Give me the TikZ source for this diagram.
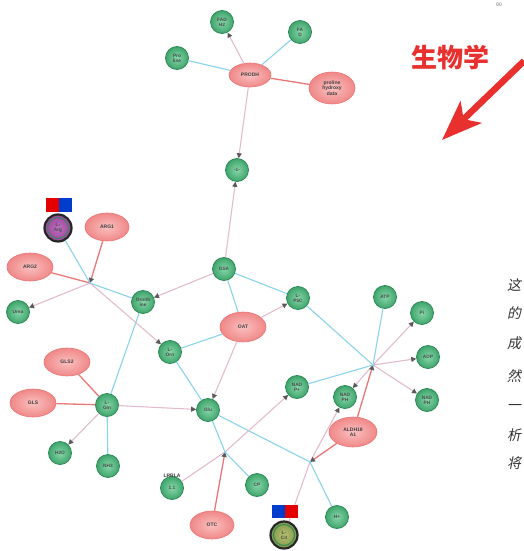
\documentclass[tikz,border=0pt]{standalone}
\usepackage{fontspec}
\setmainfont{Liberation Sans}
\newfontfamily\cjk{Noto Sans CJK SC}
\newfontfamily\cjkit[FakeSlant=0.2]{Noto Sans CJK SC}
\usetikzlibrary{arrows.meta,shapes.geometric}
\definecolor{cyanedge}{HTML}{8AD3EA}
\definecolor{pinkedge}{HTML}{E2BCCE}
\definecolor{rededge}{HTML}{E97777}
\definecolor{metin}{HTML}{86D6A8}
\definecolor{metout}{HTML}{3FA46C}
\definecolor{metdraw}{HTML}{2F8A58}
\definecolor{enzin}{HTML}{FAC0C0}
\definecolor{enzout}{HTML}{F08888}
\definecolor{enzdraw}{HTML}{E97676}
\definecolor{bigred}{HTML}{E8302E}
\definecolor{citin}{HTML}{B8C272}
\definecolor{citout}{HTML}{7F9445}
\tikzset{
  met/.style={circle, minimum size=23pt, inner sep=0pt, draw=metdraw, line width=0.8pt,
    shade, inner color=metin, outer color=metout,
    font=\bfseries\fontsize{4.8}{5}\selectfont, text=black!70, align=center},
  enz/.style={ellipse, minimum width=44pt, minimum height=28pt, inner sep=0pt, draw=enzdraw,
    line width=0.6pt, shade, inner color=enzin, outer color=enzout,
    font=\bfseries\fontsize{5}{5.5}\selectfont, text=black!75, align=center},
  ringnode/.style={circle, minimum size=27pt, inner sep=0pt, draw=black!85, line width=2.2pt,
    font=\bfseries\fontsize{4.8}{5}\selectfont, text=black!70, align=center,
    path picture={\draw[metdraw, line width=1pt] (path picture bounding box.center) circle (10.5pt);}},
  cy/.style={draw=cyanedge, line width=1.1pt},
  pk/.style={draw=pinkedge, line width=1.1pt},
  rd/.style={draw=rededge, line width=1.3pt},
  tip/.style={-{Triangle[length=5pt,width=5pt,color=black!65]}},
  hubdot/.style={circle, fill=cyanedge, inner sep=0pt, minimum size=3pt},
  cjkchar/.style={font=\cjkit\fontsize{14}{14}\selectfont, text=black!80, inner sep=0pt},
}
\begin{document}
\begin{tikzpicture}[x=1pt,y=-1pt]
\useasboundingbox (0,0) rectangle (524,551);

% top cluster
\node[met] (g1) at (222,22) {FAD\\H2};
\node[met] (g2) at (300,32) {FA\\D};
\node[met] (g3) at (177,58) {Pro\\line};
\node[enz, minimum width=42pt, minimum height=24pt] (prodh) at (250,75) {PRODH};
\node[enz, minimum width=46pt, minimum height=32pt] (pinkr) at (332,88) {proline\\hydroxy\\data};
\node[met] (g4) at (237,170) {-1-};

% left cluster
\node[ringnode, shade, inner color=violet!55, outer color=violet!75] (purple) at (58,228) {L-\\Arg};
\node[enz] (arg1) at (107,227) {ARG1};
\node[enz, minimum width=46pt] (arg2) at (30,267) {ARG2};
\coordinate (hubL) at (90,283);
\node[met] (urea) at (18,312) {Urea};
\node[met] (n143) at (143,302) {Ornith\\ine};
\node[met] (n224) at (224,269) {GSA};
\node[met] (n298) at (298,298) {L-\\P5C};
\node[enz, minimum width=46pt, minimum height=30pt] (oat) at (243,327) {OAT};
\node[met] (n170) at (170,352) {L-\\Orn};
\node[enz, minimum width=46pt] (gls2) at (67,362) {GLS2};
\node[enz, minimum width=46pt] (gls) at (33,403) {GLS};
\node[met] (n107) at (107,405) {L-\\Gln};
\node[met] (n60) at (60,453) {H2O};
\node[met] (n108) at (108,466) {NH3};
\node[met] (glu) at (208,410) {Glu};

% right cluster
\node[met] (n297) at (297,387) {NAD\\P+};
\node[met] (n345) at (345,397) {NAD\\PH};
\node[enz, minimum width=48pt, minimum height=30pt] (aldh) at (353,432) {ALDH18\\A1};
\coordinate (hubR) at (373,365);
\node[met] (n385) at (385,297) {ATP};
\node[met] (n422) at (422,313) {Pi};
\node[met] (n428) at (428,357) {ADP};
\node[met] (n427) at (427,400) {NAD\\PH};

% bottom cluster
\coordinate (hubB) at (225,452);
\coordinate (hubC) at (310,462);
\node[met] (n172) at (172,488) {1.1};
\node[font=\bfseries\fontsize{5}{5}\selectfont, text=black!80, inner sep=0pt] (lrrla) at (172,476) {LRRLA};
\node[enz] (otc) at (212,525) {OTC};
\node[met] (n257) at (257,485) {CP};
\node[ringnode, shade, inner color=citin, outer color=citout] (cit) at (284,535) {L-\\Cit};
\node[met] (n337) at (337,517) {H+};

% edges: cyan
\draw[cy] (prodh) -- (g3);
\draw[cy] (prodh) -- (g2);
\draw[cy] (n224) -- (n298);
\draw[cy] (n224) -- (oat);
\draw[cy] (oat) -- (n170);
\draw[cy] (n298) -- (hubR);
\draw[cy] (hubR) -- (n385);
\draw[cy] (hubR) -- (n297);
\draw[cy] (glu) -- (hubB);
\draw[cy] (hubB) -- (n257);
\draw[cy] (glu) -- (hubC);
\draw[cy] (hubC) -- (n337);
\draw[cy] (hubL) -- (n143);
\draw[cy] (hubL) -- (purple);
\draw[cy] (n143) -- (n107);
\draw[cy] (n107) -- (n108);
\draw[cy] (n170) -- (glu);

% edges: pink
\draw[pk,tip] (prodh) -- (g1);
\draw[pk,tip] (prodh) -- (g4);
\draw[pk,tip] (n224) -- (g4);
\draw[pk,tip] (n224) -- (n143);
\draw[pk,tip] (oat) -- (n298);
\draw[pk,tip] (oat) -- (glu);
\draw[pk,tip] (hubR) -- (n422);
\draw[pk,tip] (hubR) -- (n428);
\draw[pk,tip] (hubR) -- (n427);
\draw[pk,tip] (hubR) -- (n345);
\draw[pk,tip] (n107) -- (glu);
\draw[pk,tip] (n107) -- (n60);
\draw[pk,tip] (hubL) -- (urea);
\draw[pk,tip] (hubL) -- (n170);
\draw[pk] (n172) -- (hubB);
\draw[pk,tip] (hubB) -- (n297);
\draw[pk,tip] (hubC) -- (n345);
\draw[pk] (hubC) -- (cit);

% edges: red
\draw[rd] (prodh) -- (pinkr);
\draw[rd,tip] (arg1) -- (hubL);
\draw[rd] (arg2) -- (hubL);
\draw[rd] (gls2) -- (n107);
\draw[rd] (gls) -- (n107);
\draw[rd,tip] (otc) -- (hubB);
\draw[rd,tip] (aldh) -- (hubC);
\draw[rd,tip] (aldh) -- (hubR);

% hub dots
\node[hubdot] (dL) at (hubL) {};
\node[hubdot] (dR) at (hubR) {};
\node[hubdot] (dB) at (hubB) {};
\node[hubdot] (dC) at (hubC) {};

% flags (drawn over the edges)
\fill[red!90!black] (46,198) rectangle (59,212);
\fill[blue!70!cyan!80!black] (59,198) rectangle (72,212);
\fill[blue!70!cyan!80!black] (272,505) rectangle (285,518);
\fill[red!90!black] (285,505) rectangle (298,518);

% annotations
\node[font=\fontsize{5}{5}\selectfont, text=black!55, inner sep=0pt] (ninety) at (499,5) {90};
\node[font=\cjk\bfseries\fontsize{26}{26}\selectfont, text=bigred, inner sep=0pt] (title) at (450,57) {生物学};
\coordinate (arrS) at (524,61);
\coordinate (arrE) at (442,140);
\draw[bigred, line width=6.5pt, -{Stealth[length=40pt,width=30pt,inset=10pt]}] (arrS) -- (arrE);

\node[cjkchar] (c1) at (514,285) {这};
\node[cjkchar] (c2) at (514,313) {的};
\node[cjkchar] (c3) at (514,343) {成};
\node[cjkchar] (c4) at (514,376) {然};
\node[cjkchar] (c5) at (514,407) {一};
\node[cjkchar] (c6) at (514,435) {析};
\node[cjkchar] (c7) at (514,463) {将};
\end{tikzpicture}
\end{document}
